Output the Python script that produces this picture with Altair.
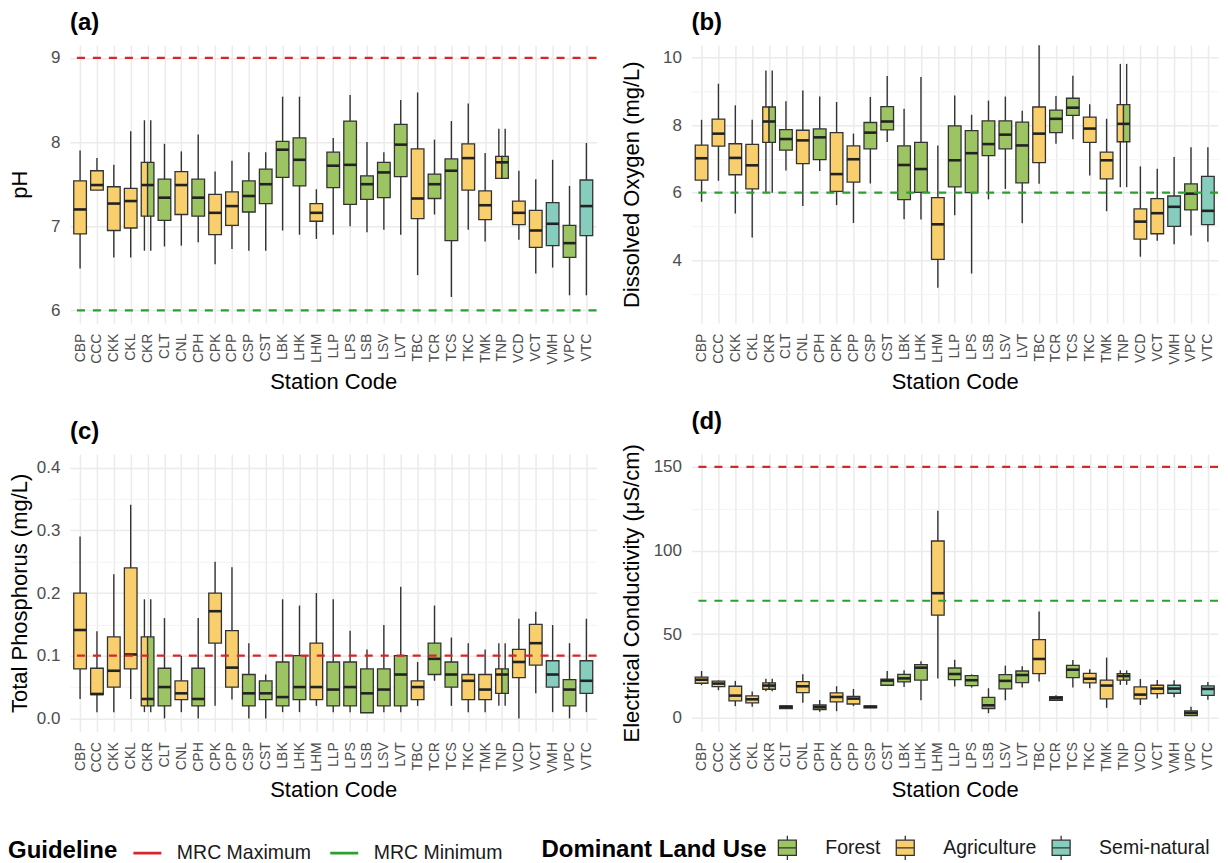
import altair as alt
import pandas as pd

FONT = "Liberation Sans"

stations = ["CBP", "CCC", "CKK", "CKL", "CKR", "CLT", "CNL", "CPH", "CPK", "CPP", "CSP",
            "CST", "LBK", "LHK", "LHM", "LLP", "LPS", "LSB", "LSV", "LVT", "TBC", "TCR",
            "TCS", "TKC", "TMK", "TNP", "VCD", "VCT", "VMH", "VPC", "VTC"]
land_use = ["Agriculture", "Agriculture", "Agriculture", "Agriculture", "Agriculture|Forest",
            "Forest", "Agriculture", "Forest", "Agriculture", "Agriculture", "Forest",
            "Forest", "Forest", "Forest", "Agriculture", "Forest", "Forest", "Forest",
            "Forest", "Forest", "Agriculture", "Forest", "Forest", "Agriculture",
            "Agriculture", "Agriculture|Forest", "Agriculture", "Agriculture",
            "Semi-natural", "Forest", "Semi-natural"]
land_use_order = ["Forest", "Agriculture", "Semi-natural"]
land_use_colors = ["#9DC462", "#F8CF6C", "#86CDBD"]
guide_names = ["MRC Maximum", "MRC Minimum"]
guide_colors = ["#D62728", "#2CA02C"]

# pH
ph_lo  = [6.50, 7.43, 6.63, 6.63, 6.71, 6.76, 6.77, 6.81, 6.55, 6.73, 6.71, 6.71, 6.95, 6.90, 6.85, 6.90, 7.00, 6.93, 6.96, 6.90, 6.42, 7.14, 6.16, 6.96, 6.82, 7.57, 6.84, 6.44, 6.51, 6.18, 6.18]
ph_q1  = [6.91, 7.43, 6.95, 6.98, 7.12, 7.07, 7.14, 7.12, 6.90, 7.01, 7.17, 7.27, 7.58, 7.48, 7.06, 7.46, 7.26, 7.32, 7.34, 7.59, 7.09, 7.33, 6.83, 7.43, 7.08, 7.57, 7.02, 6.75, 6.77, 6.63, 6.89]
ph_med = [7.20, 7.49, 7.27, 7.30, 7.49, 7.34, 7.49, 7.34, 7.16, 7.24, 7.36, 7.50, 7.91, 7.79, 7.16, 7.72, 7.73, 7.50, 7.64, 7.97, 7.33, 7.50, 7.66, 7.81, 7.25, 7.76, 7.16, 6.95, 7.03, 6.80, 7.24]
ph_q3  = [7.54, 7.66, 7.47, 7.45, 7.76, 7.56, 7.65, 7.56, 7.38, 7.41, 7.54, 7.68, 8.01, 8.05, 7.27, 7.88, 8.25, 7.60, 7.76, 8.21, 7.92, 7.62, 7.80, 7.98, 7.42, 7.83, 7.30, 7.19, 7.28, 7.01, 7.55]
ph_hi  = [7.90, 7.81, 7.73, 8.13, 8.26, 7.98, 7.89, 8.09, 7.65, 7.78, 7.88, 7.88, 8.54, 8.54, 7.44, 8.05, 8.56, 8.00, 7.88, 8.50, 8.59, 8.03, 8.25, 8.46, 7.87, 8.16, 7.66, 7.56, 7.79, 7.48, 7.99]
ph_guides = [9, 6]

# Dissolved oxygen
do_lo  = [5.73, 6.35, 5.38, 4.67, 6.00, 6.66, 5.60, 6.64, 5.63, 5.10, 6.27, 7.50, 5.21, 5.20, 3.18, 5.33, 3.60, 5.80, 6.11, 5.09, 6.26, 7.45, 7.58, 6.51, 5.45, 6.16, 4.10, 4.57, 4.47, 4.73, 4.54]
do_q1  = [6.37, 7.38, 6.53, 6.11, 7.49, 7.26, 6.86, 6.98, 6.04, 6.31, 7.30, 7.86, 5.79, 6.01, 4.02, 6.17, 6.00, 7.10, 7.30, 6.29, 6.89, 7.78, 8.29, 7.49, 6.41, 7.51, 4.62, 4.78, 5.00, 5.49, 5.05]
do_med = [7.02, 7.75, 7.03, 6.81, 8.11, 7.59, 7.55, 7.64, 6.55, 6.99, 7.78, 8.11, 6.82, 6.70, 5.06, 6.96, 7.17, 7.44, 7.72, 7.40, 7.75, 8.19, 8.52, 7.90, 6.96, 8.04, 5.14, 5.39, 5.58, 5.97, 5.46]
do_q3  = [7.41, 8.18, 7.45, 7.43, 8.54, 7.87, 7.85, 7.89, 7.78, 7.39, 8.08, 8.55, 7.39, 7.49, 5.85, 7.98, 7.84, 8.13, 8.13, 8.09, 8.54, 8.45, 8.80, 8.24, 7.20, 8.61, 5.52, 5.82, 5.90, 6.26, 6.48]
do_hi  = [8.16, 9.23, 8.59, 8.16, 9.62, 8.71, 9.03, 8.85, 8.69, 7.75, 8.84, 9.46, 8.49, 9.43, 7.40, 8.88, 8.31, 8.73, 8.85, 8.43, 10.37, 8.87, 9.47, 8.62, 8.19, 9.82, 6.78, 6.71, 7.06, 7.35, 7.35]
do_guides = [6]

# Total phosphorus
tp_lo  = [0.031, 0.010, 0.010, 0.031, 0.010, 0.000, 0.010, 0.000, 0.020, 0.030, 0.000, 0.000, 0.010, 0.010, 0.020, 0.010, 0.010, 0.009, 0.010, 0.010, 0.020, 0.060, 0.020, 0.010, 0.010, 0.020, 0.000, 0.040, 0.010, 0.000, 0.010]
tp_q1  = [0.079, 0.038, 0.050, 0.079, 0.020, 0.020, 0.030, 0.020, 0.120, 0.050, 0.020, 0.030, 0.020, 0.030, 0.030, 0.020, 0.020, 0.009, 0.020, 0.020, 0.030, 0.070, 0.050, 0.030, 0.030, 0.040, 0.065, 0.085, 0.050, 0.020, 0.040]
tp_med = [0.141, 0.039, 0.076, 0.102, 0.031, 0.050, 0.040, 0.031, 0.171, 0.081, 0.040, 0.040, 0.034, 0.050, 0.050, 0.046, 0.050, 0.040, 0.046, 0.070, 0.050, 0.095, 0.070, 0.060, 0.046, 0.070, 0.090, 0.120, 0.070, 0.046, 0.060]
tp_q3  = [0.200, 0.080, 0.130, 0.240, 0.130, 0.080, 0.060, 0.080, 0.200, 0.140, 0.070, 0.060, 0.090, 0.100, 0.120, 0.090, 0.090, 0.079, 0.079, 0.100, 0.060, 0.120, 0.090, 0.070, 0.070, 0.079, 0.110, 0.150, 0.092, 0.062, 0.092]
tp_hi  = [0.290, 0.139, 0.230, 0.341, 0.190, 0.160, 0.100, 0.160, 0.250, 0.241, 0.120, 0.070, 0.190, 0.180, 0.200, 0.190, 0.140, 0.110, 0.149, 0.210, 0.090, 0.180, 0.129, 0.120, 0.110, 0.120, 0.159, 0.170, 0.149, 0.120, 0.159]
tp_guides = [0.1]

# Electrical conductivity
ec_lo  = [19.5, 16.5, 7.0, 6.6, 15.9, 5.6, 9.1, 3.6, 4.0, 7.0, 6.0, 19.1, 18.5, 10.5, 23.6, 18.7, 18.1, 2.8, 10.5, 18.1, 21.7, 10.1, 18.1, 17.7, 6.0, 19.7, 7.7, 11.5, 12.3, 1.4, 10.9]
ec_q1  = [20.7, 18.7, 10.1, 8.9, 17.1, 5.6, 15.1, 5.0, 9.5, 8.3, 6.0, 19.5, 21.5, 22.5, 61.4, 22.8, 19.3, 5.6, 17.3, 21.1, 26.4, 10.5, 24.0, 20.9, 11.3, 22.5, 11.3, 14.5, 14.7, 1.4, 13.5]
ec_med = [22.8, 20.5, 13.3, 11.1, 19.3, 6.6, 18.9, 6.4, 12.5, 11.5, 6.6, 22.3, 23.6, 30.0, 74.5, 26.2, 22.5, 7.5, 22.1, 25.6, 35.2, 11.7, 28.8, 23.4, 19.3, 25.0, 13.9, 17.5, 17.5, 3.0, 17.3]
ec_q3  = [24.4, 21.9, 18.9, 13.1, 20.9, 7.2, 21.7, 7.7, 14.9, 12.9, 7.2, 23.2, 26.0, 31.8, 105.7, 29.8, 25.2, 12.3, 25.8, 28.0, 46.7, 12.7, 31.4, 26.6, 22.5, 26.4, 18.5, 19.5, 19.5, 4.2, 19.1]
ec_hi  = [28.0, 22.3, 22.1, 15.7, 23.4, 7.5, 26.0, 10.7, 18.9, 17.3, 7.4, 28.0, 28.4, 33.8, 123.8, 34.8, 26.0, 17.7, 31.2, 30.8, 63.6, 13.5, 34.6, 29.0, 36.0, 28.4, 23.2, 22.6, 22.5, 6.6, 21.5]
ec_guides = [150, 70]

BOX_WIDTH = 0.75


def box_frame(lo, q1, med, q3, hi):
    rows = []
    for i, (s, lu) in enumerate(zip(stations, land_use)):
        uses = lu.split("|")
        n = len(uses)
        w = BOX_WIDTH / n
        for k, u in enumerate(uses):
            c = i + (k - (n - 1) / 2) * w
            rows.append(dict(station=s, land_use=u, xc=c, x_lo=c - w / 2, x_hi=c + w / 2,
                             lo=lo[i], q1=q1[i], med=med[i], q3=q3[i], hi=hi[i]))
    return pd.DataFrame(rows)


def guide_frame(values, names):
    return pd.DataFrame({"guideline": names, "value": values})


stations_js = "[" + ",".join("'%s'" % s for s in stations) + "]"

PATH = "M-1,-0.85H1V0.85H-1Z M-1,0H1 M0,-0.85V-1.35 M0,0.85V1.35"

fill_scale = alt.Scale(domain=land_use_order, range=land_use_colors)
stroke_scale = alt.Scale(domain=guide_names, range=guide_colors)

LEG_Y = 793

fill_legend = alt.Legend(
    title="Dominant Land Use", orient="none", legendX=472, legendY=LEG_Y,
    direction="horizontal", titleOrient="left", titleFontSize=24, titleFontWeight="bold",
    titleColor="black", titlePadding=10, titleFont=FONT, titleLimit=400, labelFont=FONT,
    labelFontSize=19.5, labelColor="#1a1a1a", labelOffset=28, columnPadding=12,
    symbolType=PATH, symbolSize=324, symbolStrokeColor="#333333", symbolStrokeWidth=1.3,
    symbolOpacity=1, labelLimit=300)
stroke_legend = alt.Legend(
    title="Guideline", orient="none", legendX=-62, legendY=LEG_Y,
    direction="horizontal", titleOrient="left", titleFontSize=24, titleFontWeight="bold",
    titleColor="black", titlePadding=14, titleFont=FONT, titleLimit=400, labelFont=FONT,
    labelFontSize=19.5, labelColor="#1a1a1a", labelOffset=14, columnPadding=13,
    symbolType="stroke", symbolSize=784, symbolStrokeWidth=2.6, symbolDash=[1, 0],
    labelLimit=300)


def panel(df, gdf, tag, ytitle, domain, major, minor, fmt, height, left_col):
    xscale = alt.Scale(domain=[-0.6, len(stations) - 0.4], nice=False, zero=False)
    yscale = alt.Scale(domain=domain, nice=False, zero=False)
    x_axis = alt.Axis(
        values=list(range(len(stations))), labelExpr=stations_js + "[datum.value]",
        labelAngle=270, labelAlign="right", labelBaseline="middle", labelPadding=10,
        labelFontSize=14, labelColor="#4d4d4d", labelFont=FONT,
        title="Station Code", titleFontSize=22, titleFontWeight="normal", titleColor="black",
        titleFont=FONT, titlePadding=8, grid=True, gridColor="#ebebeb", gridWidth=1.5,
        domain=False, ticks=False, minExtent=40, maxExtent=40, labelOverlap=False)
    test = "indexof(%s, datum.value) >= 0" % str(list(major))
    ext = 34 if left_col else 40
    tpad = 4 if left_col else 8
    y_axis = alt.Axis(
        values=sorted(list(major) + list(minor)),
        labelExpr=test + " ? datum.label : ''", format=fmt,
        labelFontSize=17, labelColor="#4d4d4d", labelFont=FONT, labelPadding=10,
        title=ytitle, titleFontSize=22, titleFontWeight="normal", titleColor="black",
        titleFont=FONT, titlePadding=tpad, minExtent=ext, maxExtent=ext,
        grid=True,
        gridColor={"condition": {"test": test, "value": "#ebebeb"}, "value": "#f2f2f2"},
        gridWidth={"condition": {"test": test, "value": 1.5}, "value": 0.9},
        domain=False, ticks=False, labelOverlap=False)
    X = lambda f: alt.X(f, type="quantitative", scale=xscale, axis=x_axis)
    Y = lambda f: alt.Y(f, type="quantitative", scale=yscale, axis=y_axis)
    base = alt.Chart(df)
    whisk = base.mark_rule(color="#333333", strokeWidth=1.4).encode(
        x=X("xc"), y=Y("lo"), y2="hi")
    box = base.mark_bar(stroke="#333333", strokeWidth=1.3, opacity=1).encode(
        x=X("x_lo"), x2="x_hi", y=Y("q1"), y2="q3",
        fill=alt.Fill("land_use:N", scale=fill_scale, legend=fill_legend))
    med = base.mark_rule(color="#222222", strokeWidth=2.6).encode(
        x=X("x_lo"), x2="x_hi", y=Y("med"))
    guide = alt.Chart(gdf).mark_rule(strokeDash=[8, 8], strokeWidth=2.2).encode(
        y=Y("value"),
        stroke=alt.Stroke("guideline:N", scale=stroke_scale, legend=stroke_legend))
    return alt.layer(whisk, box, med, guide).properties(
        width=527, height=height,
        title=alt.Title(tag, anchor="start", frame="group", fontSize=24, fontWeight="bold",
                        color="black", font=FONT, offset=10))


pa = panel(box_frame(ph_lo, ph_q1, ph_med, ph_q3, ph_hi),
           guide_frame(ph_guides, ["MRC Maximum", "MRC Minimum"]),
           "(a)", "pH", [5.85, 9.15], [6, 7, 8, 9], [6.5, 7.5, 8.5], "d", 278, True)
pb = panel(box_frame(do_lo, do_q1, do_med, do_q3, do_hi),
           guide_frame(do_guides, ["MRC Minimum"]),
           "(b)", "Dissolved Oxygen (mg/L)", [2.13, 10.37], [4, 6, 8, 10], [3, 5, 7, 9], "d",
           278, False)
pc = panel(box_frame(tp_lo, tp_q1, tp_med, tp_q3, tp_hi),
           guide_frame(tp_guides, ["MRC Maximum"]),
           "(c)", "Total Phosphorus (mg/L)", [-0.0213, 0.4218], [0.0, 0.1, 0.2, 0.3, 0.4],
           [0.05, 0.15, 0.25, 0.35], ".1f", 278, True)
pd_ = panel(box_frame(ec_lo, ec_q1, ec_med, ec_q3, ec_hi),
            guide_frame(ec_guides, ["MRC Maximum", "MRC Minimum"]),
            "(d)", "Electrical Conductivity (μS/cm)", [-8.3, 157.7], [0, 50, 100, 150],
            [25, 75, 125], "d", 278, False)

res = dict(x="independent", y="independent", fill="shared", stroke="shared")
row1 = alt.hconcat(pa, pb, spacing=21).resolve_scale(**res)
row2 = alt.hconcat(pc, pd_, spacing=21).resolve_scale(**res)
chart = alt.vconcat(row1, row2, spacing=17).resolve_scale(**res).properties(
    padding={"left": 0, "top": 2, "right": 0, "bottom": 0}
).configure(font=FONT).configure_view(stroke=None)

chart.save("out.html", embed_options={"renderer": "svg", "actions": False})
